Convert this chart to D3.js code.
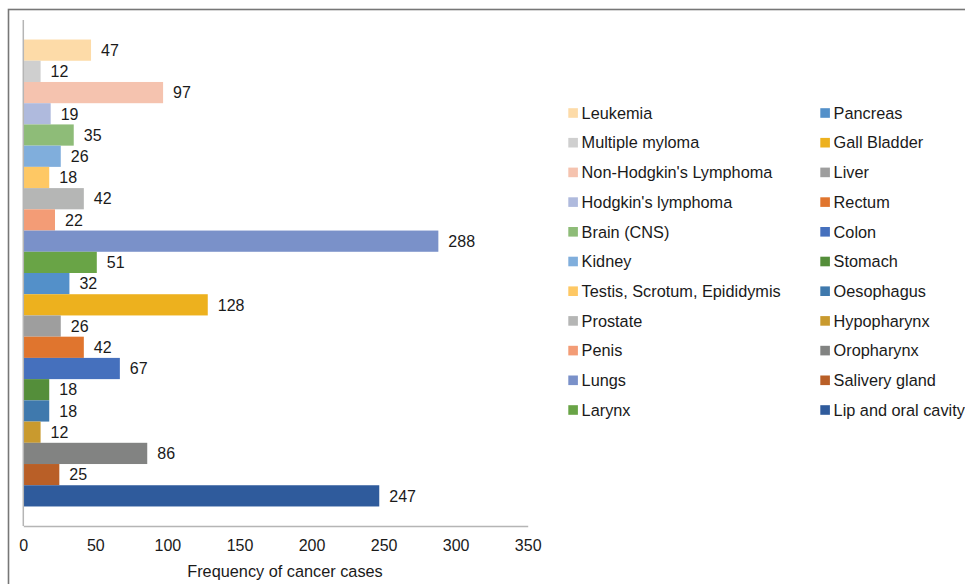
<!DOCTYPE html>
<html>
<head>
<meta charset="utf-8">
<script src="https://cdn.jsdelivr.net/npm/d3@7"></script>
<style>
  html, body { margin: 0; padding: 0; background: #fff; }
  svg { display: block; font-family: "Liberation Sans", Arial, sans-serif; }
</style>
</head>
<body>
<svg id="chart" width="965" height="584"></svg>
<script>
// Cancer sites, listed top to bottom as the bars appear
const sites = [
  "Leukemia", "Multiple myloma", "Non-Hodgkin's Lymphoma", "Hodgkin's lymphoma",
  "Brain (CNS)", "Kidney", "Testis, Scrotum, Epididymis", "Prostate", "Penis",
  "Lungs", "Larynx", "Pancreas", "Gall Bladder", "Liver", "Rectum", "Colon",
  "Stomach", "Oesophagus", "Hypopharynx", "Oropharynx", "Salivery gland",
  "Lip and oral cavity"
];
const cases = [47, 12, 97, 19, 35, 26, 18, 42, 22, 288, 51, 32, 128, 26, 42, 67, 18, 18, 12, 86, 25, 247];
const siteColors = [
  "#FDDBA8", "#CFCFCF", "#F5C3AF", "#AFBADD", "#8EBC78", "#80AEDC", "#FEC864",
  "#B5B6B5", "#F39C76", "#7A91C9", "#69A446", "#5390C9", "#EDB11E", "#9E9E9E",
  "#E0752E", "#4570BD", "#548E3A", "#3F79AD", "#C99A2E", "#828382", "#B95F27",
  "#2F5B9C"
];
const xTicks = [0, 50, 100, 150, 200, 250, 300, 350];
const xTitle = "Frequency of cancer cases";

const svg = d3.select("#chart");

// outer chart border
svg.append("rect")
  .attr("x", 8.5).attr("y", 9.5)
  .attr("width", 1200).attr("height", 1200)
  .attr("fill", "none")
  .attr("stroke", "#777").attr("stroke-width", 1.6);

const plot = { left: 23.3, right: 527.7, top: 20, bottom: 526 };

const x = d3.scaleLinear().domain([0, 350]).range([plot.left, plot.right]);
const y = d3.scaleBand().domain(sites).range([plot.top, plot.bottom])
  .paddingInner(0).paddingOuter(0.92);

// bars
svg.append("g").selectAll("rect")
  .data(sites)
  .join("rect")
  .attr("x", x(0))
  .attr("y", d => y(d))
  .attr("width", (d, i) => x(cases[i]) - x(0))
  .attr("height", y.bandwidth())
  .attr("fill", (d, i) => siteColors[i]);

// value labels
svg.append("g").selectAll("text")
  .data(sites)
  .join("text")
  .attr("x", (d, i) => x(cases[i]) + 10)
  .attr("y", d => y(d) + y.bandwidth() / 2)
  .attr("dy", "0.36em")
  .attr("font-size", 16)
  .attr("fill", "#1a1a1a")
  .text((d, i) => cases[i]);

// axes lines
svg.append("line")
  .attr("x1", plot.left).attr("x2", plot.left)
  .attr("y1", plot.top).attr("y2", plot.bottom)
  .attr("stroke", "#b5b5b5").attr("stroke-width", 1.5);

const xAxis = d3.axisBottom(x).tickValues(xTicks).tickSize(0).tickPadding(14);
const gx = svg.append("g").attr("transform", `translate(0,${plot.bottom})`).call(xAxis);
gx.select(".domain").attr("stroke", "#b5b5b5").attr("stroke-width", 1.5);
gx.selectAll("text")
  .attr("font-size", 16)
  .attr("font-family", "'Liberation Sans', Arial, sans-serif")
  .attr("fill", "#1a1a1a");

svg.append("text")
  .attr("x", 285).attr("y", 571)
  .attr("dy", "0.35em")
  .attr("text-anchor", "middle")
  .attr("font-size", 16.3)
  .attr("fill", "#1a1a1a")
  .text(xTitle);

// legend: two columns of eleven entries
const perCol = 11;
const legend = svg.append("g");
const entry = legend.selectAll("g")
  .data(sites)
  .join("g")
  .attr("transform", (d, i) => {
    const col = Math.floor(i / perCol), row = i % perCol;
    const lx = col === 0 ? 568.3 : 820.3;
    const ly = 113 + row * 29.7;
    return `translate(${lx},${ly})`;
  });
entry.append("rect")
  .attr("x", 0).attr("y", -4.8)
  .attr("width", 9.6).attr("height", 9.6)
  .attr("fill", (d, i) => siteColors[i]);
entry.append("text")
  .attr("x", 13.3).attr("y", 0)
  .attr("dy", "0.35em")
  .attr("font-size", 16.3)
  .attr("fill", "#1a1a1a")
  .text(d => d);
</script>
</body>
</html>
